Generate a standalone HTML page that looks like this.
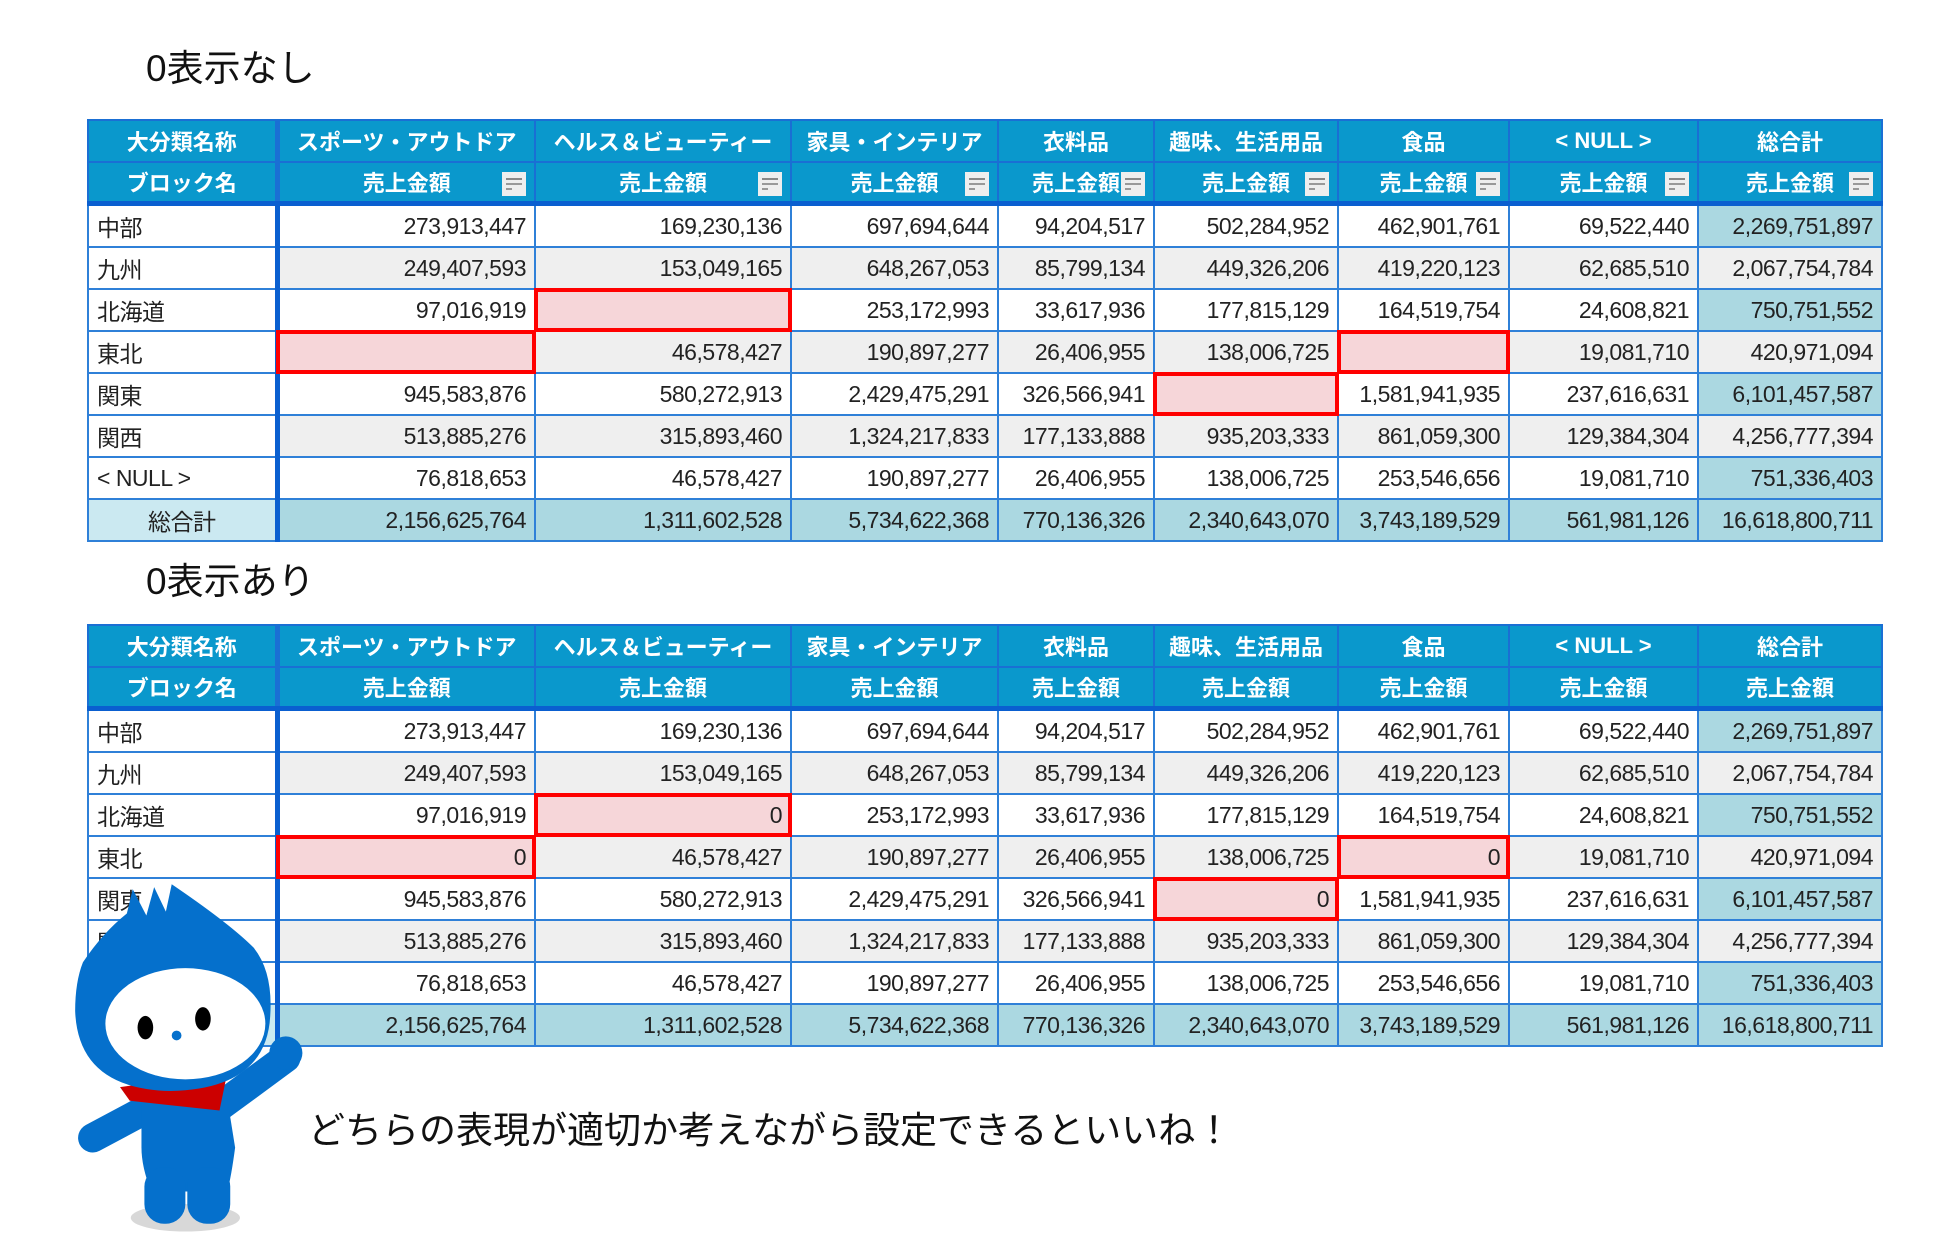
<!DOCTYPE html>
<html><head><meta charset="utf-8">
<style>
html,body{margin:0;padding:0;background:#fff;}
body{width:1937px;height:1256px;position:relative;overflow:hidden;font-family:"Liberation Sans","Noto Sans CJK JP",sans-serif;}
.title{position:absolute;font-size:37px;color:#111;font-family:"Liberation Sans","Noto Sans CJK JP",sans-serif;line-height:1;}
table{position:absolute;left:87px;border-collapse:collapse;table-layout:fixed;width:1794px;}
td{border:2px solid #2f80d8;padding:0 8px;font-size:23px;color:#222;white-space:nowrap;overflow:hidden;text-align:right;font-family:"Liberation Sans","Noto Sans CJK JP",sans-serif;letter-spacing:-0.5px;}
tr.h td{background:#0a98cc;color:#fff;font-weight:bold;text-align:center;font-size:22px;border-color:#1a6fd4;position:relative;letter-spacing:0;}
tr.h2 td{border-bottom:5px solid #0a5fd0;}
td.c0{text-align:left;background:#fff;border-right:5px solid #0a5fd0;}
tr.h td.c0{text-align:center;background:#0a98cc;}
tr.g td{background:#efefef;}
tr.g td.c0{background:#fff;}
td.tot{background:#abd8e1;}
tr.t td{background:#abd8e1;}
tr.t td.c0{background:#cbe9f1;text-align:center;}
td.hl{background:#f6d6d9 !important;outline:4px solid #f00;outline-offset:-3px;}
.fi{position:absolute;right:8px;top:9px;width:24px;height:24px;background:#eee;}
.fi:before{content:"";position:absolute;left:4px;top:6px;width:16px;height:2px;background:#888;box-shadow:0 5px 0 -0px #999;}
.fi:after{content:"";position:absolute;left:4px;top:16px;width:6px;height:2px;background:#999;}
tr.h1 td{height:40px;}
tr.h2 td{height:38px;}
tr.d td{height:40px;}
</style></head><body>
<div class="title" style="left:146px;top:50px;">0表示なし</div>
<table style="top:119px;">
<colgroup><col style="width:189px"><col style="width:258px"><col style="width:256px"><col style="width:207px"><col style="width:156px"><col style="width:184px"><col style="width:171px"><col style="width:189px"><col style="width:184px"></colgroup>
<tr class="h h1"><td class="c0">大分類名称</td><td>スポーツ・アウトドア</td><td>ヘルス＆ビューティー</td><td>家具・インテリア</td><td>衣料品</td><td>趣味、生活用品</td><td>食品</td><td>&lt; NULL &gt;</td><td>総合計</td></tr>
<tr class="h h2"><td class="c0">ブロック名</td><td>売上金額<span class="fi"></span></td><td>売上金額<span class="fi"></span></td><td>売上金額<span class="fi"></span></td><td>売上金額<span class="fi"></span></td><td>売上金額<span class="fi"></span></td><td>売上金額<span class="fi"></span></td><td>売上金額<span class="fi"></span></td><td>売上金額<span class="fi"></span></td></tr>
<tr class="d"><td class="c0">中部</td><td>273,913,447</td><td>169,230,136</td><td>697,694,644</td><td>94,204,517</td><td>502,284,952</td><td>462,901,761</td><td>69,522,440</td><td class="tot">2,269,751,897</td></tr>
<tr class="d g"><td class="c0">九州</td><td>249,407,593</td><td>153,049,165</td><td>648,267,053</td><td>85,799,134</td><td>449,326,206</td><td>419,220,123</td><td>62,685,510</td><td class="tot">2,067,754,784</td></tr>
<tr class="d"><td class="c0">北海道</td><td>97,016,919</td><td class="hl"></td><td>253,172,993</td><td>33,617,936</td><td>177,815,129</td><td>164,519,754</td><td>24,608,821</td><td class="tot">750,751,552</td></tr>
<tr class="d g"><td class="c0">東北</td><td class="hl"></td><td>46,578,427</td><td>190,897,277</td><td>26,406,955</td><td>138,006,725</td><td class="hl"></td><td>19,081,710</td><td class="tot">420,971,094</td></tr>
<tr class="d"><td class="c0">関東</td><td>945,583,876</td><td>580,272,913</td><td>2,429,475,291</td><td>326,566,941</td><td class="hl"></td><td>1,581,941,935</td><td>237,616,631</td><td class="tot">6,101,457,587</td></tr>
<tr class="d g"><td class="c0">関西</td><td>513,885,276</td><td>315,893,460</td><td>1,324,217,833</td><td>177,133,888</td><td>935,203,333</td><td>861,059,300</td><td>129,384,304</td><td class="tot">4,256,777,394</td></tr>
<tr class="d"><td class="c0">&lt; NULL &gt;</td><td>76,818,653</td><td>46,578,427</td><td>190,897,277</td><td>26,406,955</td><td>138,006,725</td><td>253,546,656</td><td>19,081,710</td><td class="tot">751,336,403</td></tr>
<tr class="d t"><td class="c0">総合計</td><td>2,156,625,764</td><td>1,311,602,528</td><td>5,734,622,368</td><td>770,136,326</td><td>2,340,643,070</td><td>3,743,189,529</td><td>561,981,126</td><td>16,618,800,711</td></tr>
</table>

<div class="title" style="left:146px;top:563px;">0表示あり</div>
<table style="top:624px;">
<colgroup><col style="width:189px"><col style="width:258px"><col style="width:256px"><col style="width:207px"><col style="width:156px"><col style="width:184px"><col style="width:171px"><col style="width:189px"><col style="width:184px"></colgroup>
<tr class="h h1"><td class="c0">大分類名称</td><td>スポーツ・アウトドア</td><td>ヘルス＆ビューティー</td><td>家具・インテリア</td><td>衣料品</td><td>趣味、生活用品</td><td>食品</td><td>&lt; NULL &gt;</td><td>総合計</td></tr>
<tr class="h h2"><td class="c0">ブロック名</td><td>売上金額</td><td>売上金額</td><td>売上金額</td><td>売上金額</td><td>売上金額</td><td>売上金額</td><td>売上金額</td><td>売上金額</td></tr>
<tr class="d"><td class="c0">中部</td><td>273,913,447</td><td>169,230,136</td><td>697,694,644</td><td>94,204,517</td><td>502,284,952</td><td>462,901,761</td><td>69,522,440</td><td class="tot">2,269,751,897</td></tr>
<tr class="d g"><td class="c0">九州</td><td>249,407,593</td><td>153,049,165</td><td>648,267,053</td><td>85,799,134</td><td>449,326,206</td><td>419,220,123</td><td>62,685,510</td><td class="tot">2,067,754,784</td></tr>
<tr class="d"><td class="c0">北海道</td><td>97,016,919</td><td class="hl">0</td><td>253,172,993</td><td>33,617,936</td><td>177,815,129</td><td>164,519,754</td><td>24,608,821</td><td class="tot">750,751,552</td></tr>
<tr class="d g"><td class="c0">東北</td><td class="hl">0</td><td>46,578,427</td><td>190,897,277</td><td>26,406,955</td><td>138,006,725</td><td class="hl">0</td><td>19,081,710</td><td class="tot">420,971,094</td></tr>
<tr class="d"><td class="c0">関東</td><td>945,583,876</td><td>580,272,913</td><td>2,429,475,291</td><td>326,566,941</td><td class="hl">0</td><td>1,581,941,935</td><td>237,616,631</td><td class="tot">6,101,457,587</td></tr>
<tr class="d g"><td class="c0">関西</td><td>513,885,276</td><td>315,893,460</td><td>1,324,217,833</td><td>177,133,888</td><td>935,203,333</td><td>861,059,300</td><td>129,384,304</td><td class="tot">4,256,777,394</td></tr>
<tr class="d"><td class="c0">&lt; NULL &gt;</td><td>76,818,653</td><td>46,578,427</td><td>190,897,277</td><td>26,406,955</td><td>138,006,725</td><td>253,546,656</td><td>19,081,710</td><td class="tot">751,336,403</td></tr>
<tr class="d t"><td class="c0">総合計</td><td>2,156,625,764</td><td>1,311,602,528</td><td>5,734,622,368</td><td>770,136,326</td><td>2,340,643,070</td><td>3,743,189,529</td><td>561,981,126</td><td>16,618,800,711</td></tr>
</table>

<svg style="position:absolute;left:0;top:855px;" width="400" height="396" viewBox="0 0 400 406">
<ellipse cx="185" cy="372" rx="56" ry="14" fill="#d8d8d8"/>
<path d="M90 290 L150 258" stroke="#0570cc" stroke-width="30" stroke-linecap="round"/>
<path d="M220 258 L288 208" stroke="#0570cc" stroke-width="30" stroke-linecap="round"/>
<circle cx="288" cy="203" r="17" fill="#0570cc"/>
<path d="M140 250 Q185 235 228 250 L236 300 Q232 330 228 345 L150 345 Q140 320 140 300 Z" fill="#0570cc"/>
<rect x="143" y="320" width="42" height="58" rx="20" fill="#0570cc"/>
<rect x="187" y="320" width="44" height="58" rx="20" fill="#0570cc"/>
<path d="M118 238 L228 223 L220 262 L165 256 L128 252 Z" fill="#cc0000"/>
<path d="M80 110 Q100 80 125 60 L131 35 L145 62 L153 33 L165 58 L171 30 Q230 70 255 95 Q275 120 272 165 Q268 240 170 242 Q75 240 72 160 Q72 130 80 110 Z" fill="#0570cc"/>
<ellipse cx="185" cy="173" rx="82" ry="57" fill="#fff"/>
<ellipse cx="144" cy="177" rx="8" ry="12" fill="#000"/>
<ellipse cx="203" cy="168" rx="8" ry="12" fill="#000"/>
<circle cx="176" cy="185" r="5" fill="#0570cc"/>
</svg>

<div class="title" style="left:308px;top:1112px;font-size:37px;">どちらの表現が適切か考えながら設定できるといいね！</div>
</body></html>
